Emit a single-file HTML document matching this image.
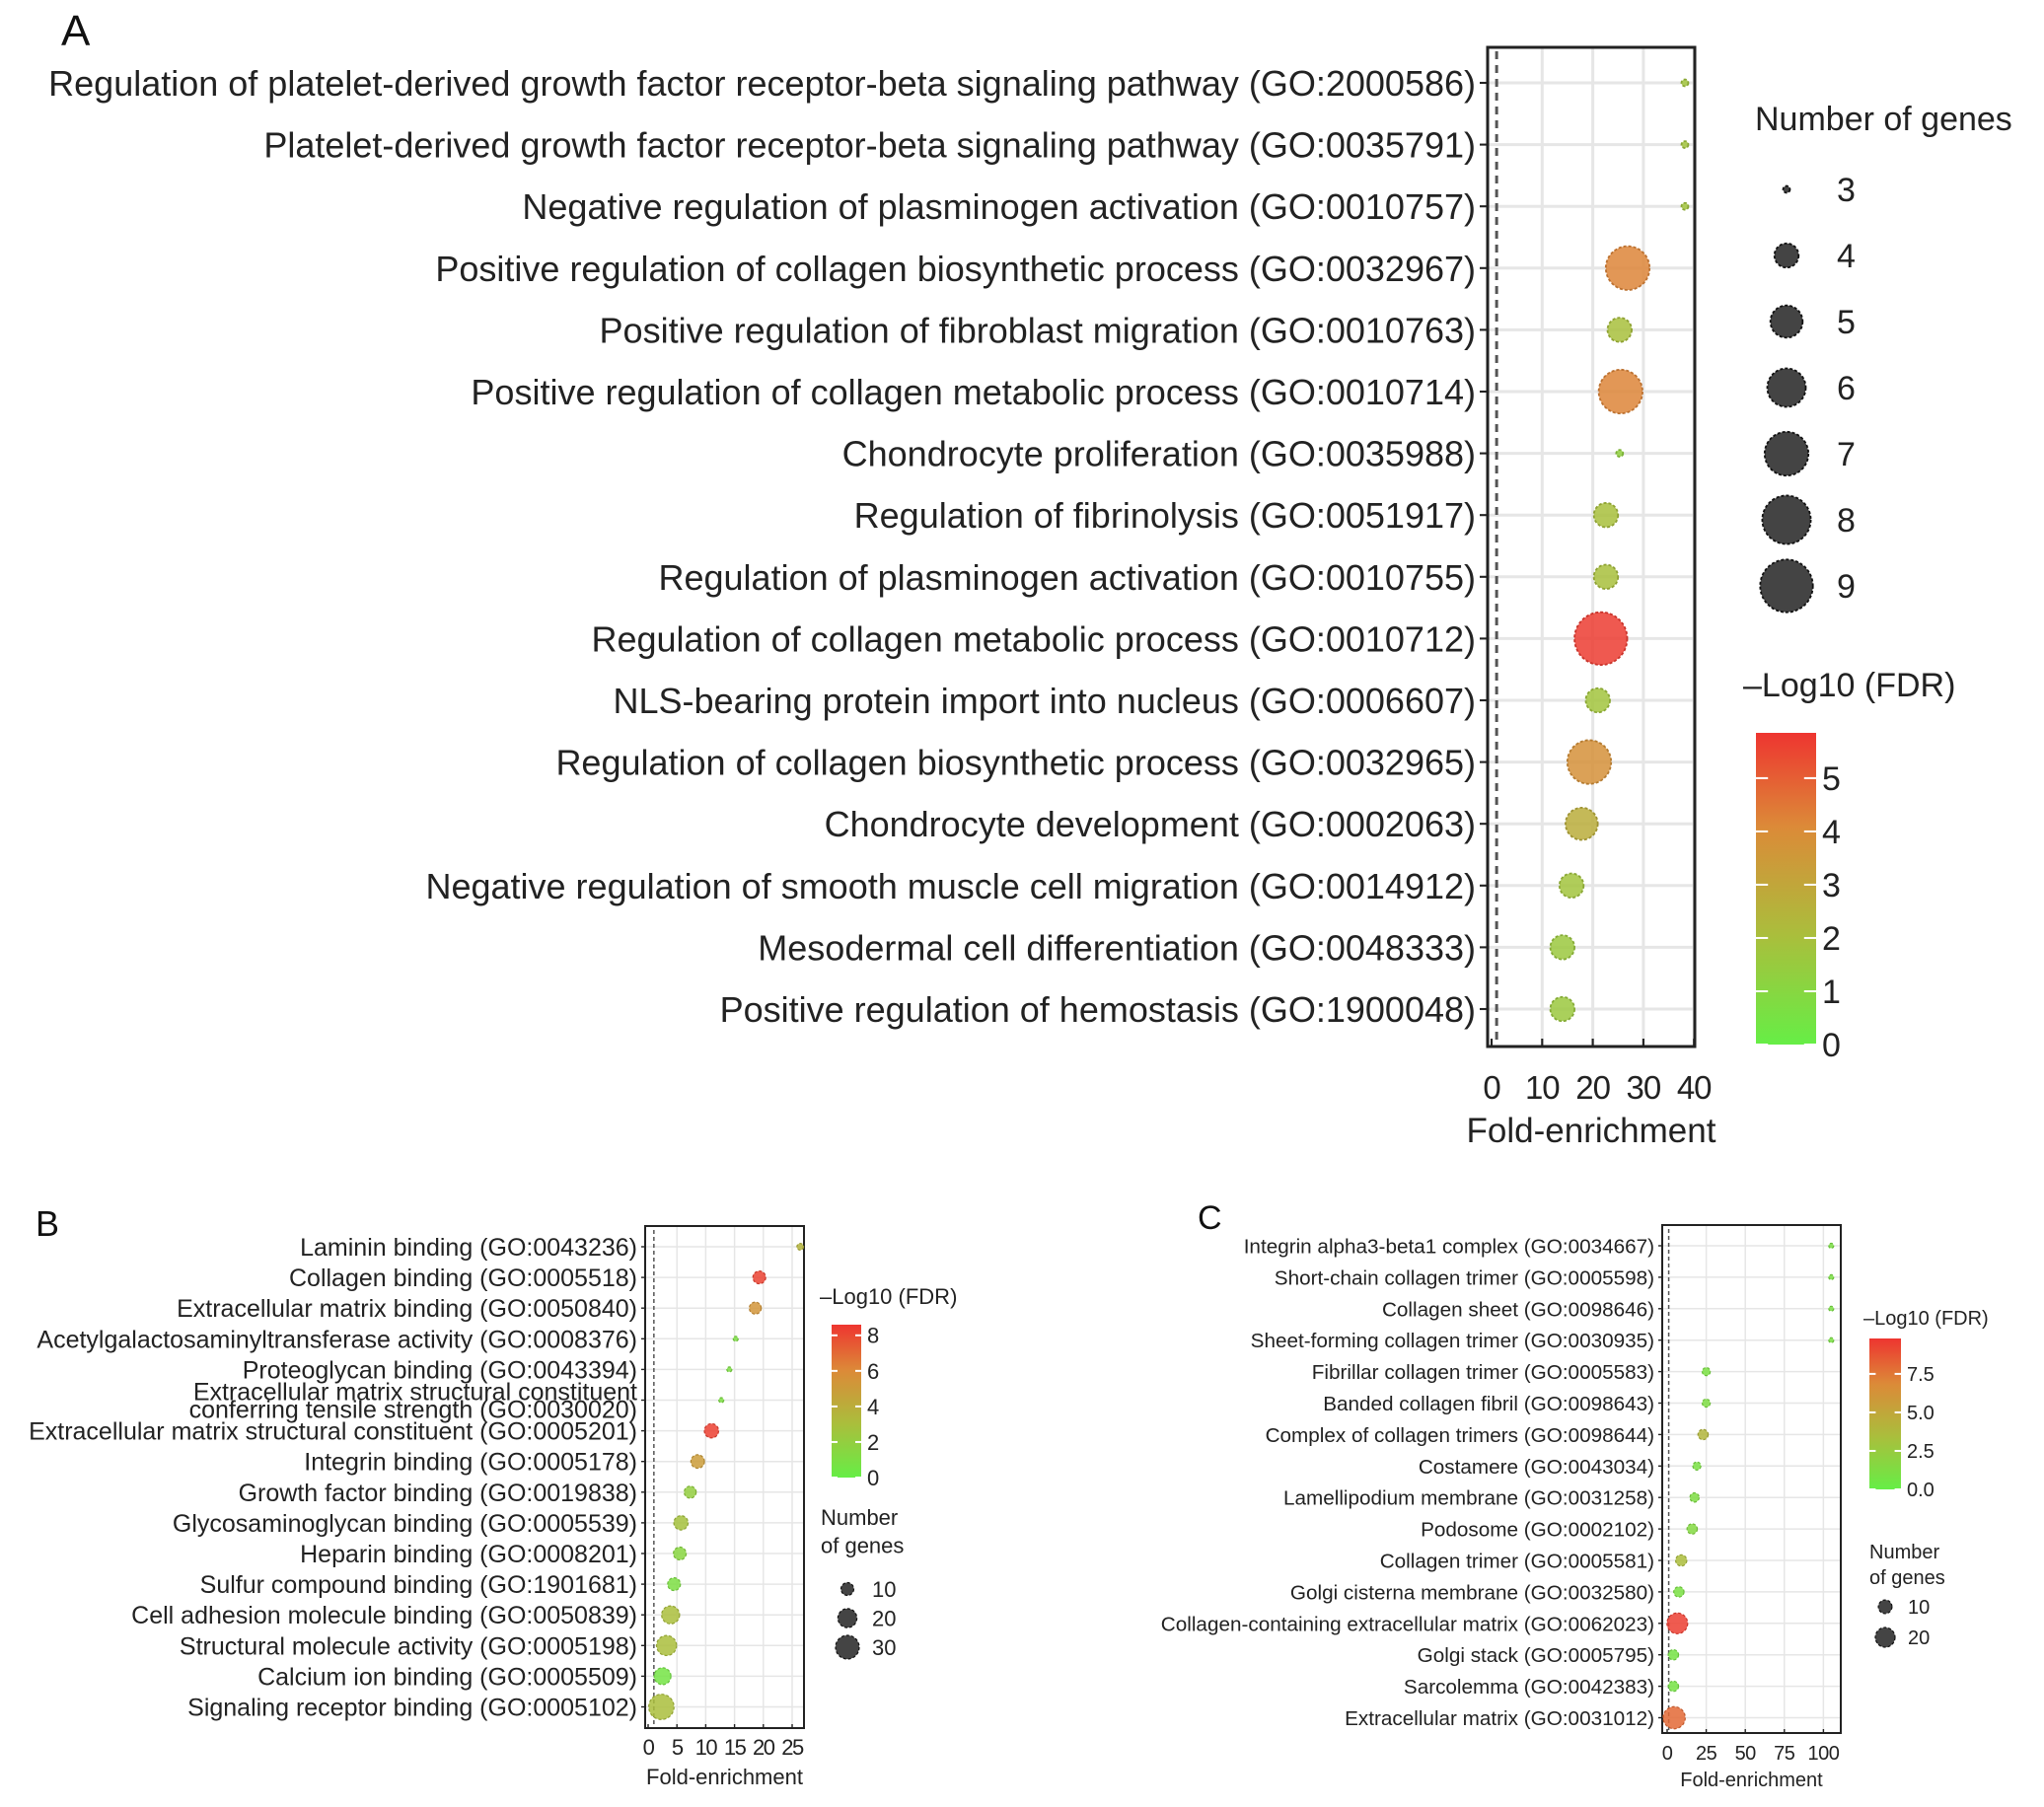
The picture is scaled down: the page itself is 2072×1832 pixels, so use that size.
<!DOCTYPE html>
<html><head><meta charset="utf-8"><style>
html,body{margin:0;padding:0;background:#fff;}
svg{display:block;font-family:"Liberation Sans",Arial,sans-serif;}
</style></head><body>
<svg id="fig" width="2072" height="1832" viewBox="0 0 2072 1832" xmlns="http://www.w3.org/2000/svg">
<defs>
<linearGradient id="gradA" x1="0" y1="1" x2="0" y2="0"><stop offset="0" stop-color="#66ee46"/><stop offset="0.35" stop-color="#aabe3c"/><stop offset="0.7" stop-color="#dc8a38"/><stop offset="1" stop-color="#ee3530"/></linearGradient>
</defs>
<g id="root"></g>
</svg>
<script>
// ---- Panel A data ----
const catsA = ["Regulation of platelet-derived growth factor receptor-beta signaling pathway (GO:2000586)","Platelet-derived growth factor receptor-beta signaling pathway (GO:0035791)","Negative regulation of plasminogen activation (GO:0010757)","Positive regulation of collagen biosynthetic process (GO:0032967)","Positive regulation of fibroblast migration (GO:0010763)","Positive regulation of collagen metabolic process (GO:0010714)","Chondrocyte proliferation (GO:0035988)","Regulation of fibrinolysis (GO:0051917)","Regulation of plasminogen activation (GO:0010755)","Regulation of collagen metabolic process (GO:0010712)","NLS-bearing protein import into nucleus (GO:0006607)","Regulation of collagen biosynthetic process (GO:0032965)","Chondrocyte development (GO:0002063)","Negative regulation of smooth muscle cell migration (GO:0014912)","Mesodermal cell differentiation (GO:0048333)","Positive regulation of hemostasis (GO:1900048)"];
const foldA = [38.2,38.2,38.2,26.9,25.3,25.5,25.3,22.6,22.6,21.6,21,19.3,17.8,15.8,14,14];
const genesA = [3,3,3,7,4,7,3,4,4,9,4,7,5,4,4,4];
const fdrA = [1.8,1.8,1.8,4.2,2,4.2,1.3,2,2,5.7,1.8,3.8,2.7,1.8,1.6,1.6];
const ticksA = [0,10,20,30,40];
const cbTicksA = [0,1,2,3,4,5];
const sizeLegA = [3,4,5,6,7,8,9];
// ---- Panel B data ----
const catsB = ["Laminin binding (GO:0043236)","Collagen binding (GO:0005518)","Extracellular matrix binding (GO:0050840)","Acetylgalactosaminyltransferase activity (GO:0008376)","Proteoglycan binding (GO:0043394)","Extracellular matrix structural constituent|conferring tensile strength (GO:0030020)","Extracellular matrix structural constituent (GO:0005201)","Integrin binding (GO:0005178)","Growth factor binding (GO:0019838)","Glycosaminoglycan binding (GO:0005539)","Heparin binding (GO:0008201)","Sulfur compound binding (GO:1901681)","Cell adhesion molecule binding (GO:0050839)","Structural molecule activity (GO:0005198)","Calcium ion binding (GO:0005509)","Signaling receptor binding (GO:0005102)"];
const foldB = [26.4,19.3,18.6,15.2,14.1,12.7,11,8.6,7.3,5.7,5.5,4.5,3.9,3.2,2.5,2.3];
const genesB = [4,10,9,3,3,3,12,11,9,12,10,10,18,22,16,34];
const fdrB = [3.6,8.2,5.4,1,1,1,8.3,5,2,2.8,1.5,1,3,3,0.6,3];
const ticksB = [0,5,10,15,20,25];
const cbTicksB = [0,2,4,6,8];
const sizeLegB = [10,20,30];
// ---- Panel C data ----
const catsC = ["Integrin alpha3-beta1 complex (GO:0034667)","Short-chain collagen trimer (GO:0005598)","Collagen sheet (GO:0098646)","Sheet-forming collagen trimer (GO:0030935)","Fibrillar collagen trimer (GO:0005583)","Banded collagen fibril (GO:0098643)","Complex of collagen trimers (GO:0098644)","Costamere (GO:0043034)","Lamellipodium membrane (GO:0031258)","Podosome (GO:0002102)","Collagen trimer (GO:0005581)","Golgi cisterna membrane (GO:0032580)","Collagen-containing extracellular matrix (GO:0062023)","Golgi stack (GO:0005795)","Sarcolemma (GO:0042383)","Extracellular matrix (GO:0031012)"];
const foldC = [105,105,105,105,25,25,23,19,17.5,16,9,7.5,6.5,4,4,4.5];
const genesC = [2,2,2,2,4,4,6,4,5,6,7,6,22,6,6,25];
const fdrC = [1,1,1,1,1,1.2,4,1,1.2,1.5,3.5,1,9.5,0.8,0.8,8];
const ticksC = [0,25,50,75,100];
const cbTicksC = [0,2.5,5,7.5];
const sizeLegC = [10,20];

const NS="http://www.w3.org/2000/svg";
const root=document.getElementById('root');
function mk(tag,attrs,parent,text){const e=document.createElementNS(NS,tag);for(const k in attrs)e.setAttribute(k,attrs[k]);if(text!==undefined)e.textContent=text;(parent||root).appendChild(e);return e;}
const stops=[[0,[102,238,70]],[0.35,[170,190,60]],[0.7,[220,138,56]],[1,[238,53,48]]];
function col(f){f=Math.max(0,Math.min(1,f));for(let i=1;i<stops.length;i++){if(f<=stops[i][0]){const a=stops[i-1],b=stops[i];const t=(f-a[0])/(b[0]-a[0]);const c=a[1].map((v,j)=>Math.round(v+(b[1][j]-v)*t));return c;}}return stops[3][1];}
function rgb(c,k){return 'rgb('+c.map(v=>Math.round(v*k)).join(',')+')';}

function panel(p){
  const g=mk('g',{});
  
  
  const xs=v=>p.x0+(v)*p.ux;
  const ys=i=>p.row0+i*p.dy;
  p.ticks.forEach(t=>{ if(t===0)return; const l=mk('line',{x1:xs(t),x2:xs(t),y1:p.top,y2:p.bot,stroke:'#e6e6e6','stroke-width':p.gw},g);
    
    });
  p.cats.forEach((c,i)=>{const l=mk('line',{x1:p.left,x2:p.right,y1:ys(i),y2:ys(i),stroke:'#e6e6e6','stroke-width':p.gw},g);
    
    });
  const dl=mk('line',{x1:xs(1),x2:xs(1),y1:p.top+4,y2:p.bot,stroke:'#555','stroke-width':p.gw,'stroke-dasharray':p.dash},g);
  
  
  const fr=mk('rect',{x:p.left,y:p.top,width:p.right-p.left,height:p.bot-p.top,fill:'none',stroke:'#222','stroke-width':p.fw},g);
  
  
  p.cats.forEach((c,i)=>{
    const tk=mk('line',{x1:p.left-p.tl,x2:p.left,y1:ys(i),y2:ys(i),stroke:'#222','stroke-width':p.fw*0.7},g);
    
    
    const parts=c.split('|');
    parts.forEach((s,k)=>{
      const yy=ys(i)+p.fs*0.36+(k-(parts.length-1)/2)*p.fs*0.72;
      const t=mk('text',{x:p.left-p.tl-4,y:yy,'text-anchor':'end','font-size':p.fs,fill:'#222'},g,s);
      
      
    });
  });
  p.ticks.forEach(t=>{
    const tk=mk('line',{x1:xs(t),x2:xs(t),y1:p.bot,y2:p.bot-p.tl,stroke:'#222','stroke-width':p.fw*0.7},g);
    
    
    const tx=mk('text',{x:xs(t),y:p.tickY,'text-anchor':'middle','font-size':p.tfs,fill:'#222','letter-spacing':p.tls},g,String(t));
    
    
  });
  const xl=mk('text',{x:(p.left+p.right)/2,y:p.xlY,'text-anchor':'middle','font-size':p.xfs,fill:'#222'},g,'Fold-enrichment');
  
  
  p.cats.forEach((c,i)=>{
    const cc=col(p.fdr[i]/p.cbMax);
    const pt=mk('circle',{cx:xs(p.fold[i]),cy:ys(i),r:p.rad(p.genes[i]),fill:rgb(cc,1),'fill-opacity':0.85,stroke:rgb(cc,0.85),'stroke-width':p.fw*0.6,'stroke-dasharray':'3 2'},g);
    
    
  });
  const L=mk('text',{x:p.letX,y:p.letY,'font-size':p.letFs,fill:'#111'},g,p.letter);
  
  
  const ct=mk('text',{x:p.cbTitleX,y:p.cbTitleY,'font-size':p.lfs,fill:'#222'},g,'\u2013Log10 (FDR)');
  
  
  const cb=mk('rect',{x:p.cbX,y:p.cbTop,width:p.cbW,height:p.cbBot-p.cbTop,fill:'url(#gradA)'},g);
  
  
  const cy=v=>p.cbBot-(v/p.cbMax)*(p.cbBot-p.cbTop);
  p.cbTicks.forEach(v=>{
    [[p.cbX,p.cbX+p.cbW*0.2],[p.cbX+p.cbW*0.8,p.cbX+p.cbW]].forEach(a=>{
      const l=mk('line',{x1:a[0],x2:a[1],y1:cy(v),y2:cy(v),stroke:'#fff','stroke-width':2},g);
      
      
    });
    const t=mk('text',{x:p.cbX+p.cbW+6,y:cy(v)+p.cfs*0.36,'font-size':p.cfs,fill:'#222'},g,p.cbFmt(v));
    
    
  });
  p.sizeTitle.forEach((s,k)=>{
    const t=mk('text',{x:p.sTitleX,y:p.sTitleY+k*p.lfs*1.3,'font-size':p.lfs,fill:'#222'},g,s);
    
    
  });
  p.sizeLeg.forEach((n,k)=>{
    const y=p.sY0+k*p.sDy;
    const c=mk('circle',{cx:p.sX,cy:y,r:p.rad(n),fill:'#444',stroke:'#111','stroke-width':p.fw*0.6,'stroke-dasharray':'3 2'},g);
    
    
    const t=mk('text',{x:p.sLX,y:y+p.sfs*0.36,'font-size':p.sfs,fill:'#222'},g,String(n));
    
    
  });
}

panel({name:'panel-a',letter:'A',letX:62,letY:46,letFs:44,cats:catsA,fold:foldA,genes:genesA,fdr:fdrA,ticks:ticksA,
 left:1508,right:1718,top:48,bot:1061,x0:1512,ux:5.13,row0:84,dy:62.6,gw:3,fw:3,tl:8,dash:'8 6',fs:36,tfs:33,tls:-1,tickY:1114,xfs:35,xlY:1158,
 rad:n=>Math.sqrt(Math.max(4,12+104*(n-3)))+ (n>3?1.5:0),
 cbMax:5.85,cbX:1780,cbW:61,cbTop:743,cbBot:1059,cbTicks:cbTicksA,cbFmt:v=>String(v),cfs:34,cbTitleX:1767,cbTitleY:706,lfs:34,
 sizeTitle:['Number of genes'],sTitleX:1779,sTitleY:132,sizeLeg:sizeLegA,sX:1811,sY0:192,sDy:67,sLX:1862,sfs:34});
panel({name:'panel-b',letter:'B',letX:36,letY:1253,letFs:36,cats:catsB,fold:foldB,genes:genesB,fdr:fdrB,ticks:ticksB,
 left:654,right:815,top:1243,bot:1752,x0:657,ux:5.84,row0:1264,dy:31.1,gw:1.5,fw:2,tl:4,dash:'4 3',fs:25,tfs:22,tls:-1.5,tickY:1779,xfs:22,xlY:1809,
 rad:n=>Math.sqrt(Math.max(6,-9+5.1*n)),
 cbMax:8.6,cbX:843,cbW:30,cbTop:1343,cbBot:1498,cbTicks:cbTicksB,cbFmt:v=>String(v),cfs:22,cbTitleX:831,cbTitleY:1322,lfs:22,
 sizeTitle:['Number','of genes'],sTitleX:832,sTitleY:1546,sizeLeg:sizeLegB,sX:859,sY0:1611,sDy:29.5,sLX:884,sfs:22});
panel({name:'panel-c',letter:'C',letX:1214,letY:1246,letFs:34,cats:catsC,fold:foldC,genes:genesC,fdr:fdrC,ticks:ticksC,
 left:1685,right:1866,top:1242,bot:1757,x0:1690,ux:1.584,row0:1263,dy:31.9,gw:1.5,fw:2,tl:4,dash:'4 3',fs:20.7,tfs:20,tls:-0.5,tickY:1784,xfs:20,xlY:1811,
 rad:n=>Math.sqrt(Math.max(4,-4.2+5.2*n)),
 cbMax:9.8,cbX:1895,cbW:32,cbTop:1357,cbBot:1510,cbTicks:cbTicksC,cbFmt:v=>v.toFixed(1),cfs:20,cbTitleX:1889,cbTitleY:1343,lfs:20,
 sizeTitle:['Number','of genes'],sTitleX:1895,sTitleY:1580,sizeLeg:sizeLegC,sX:1911,sY0:1629,sDy:31,sLX:1934,sfs:20});
</script>
</body></html>
